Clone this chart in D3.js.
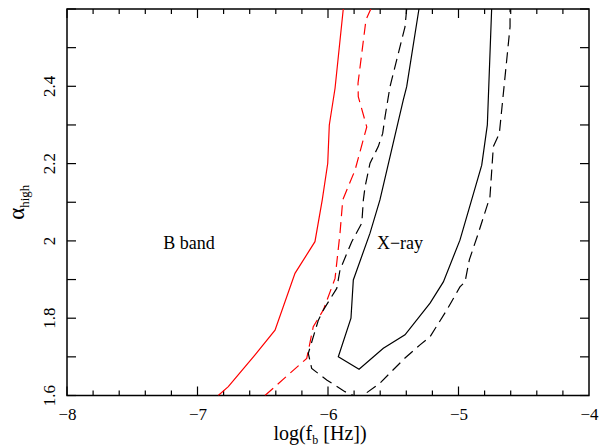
<!DOCTYPE html>
<html>
<head>
<meta charset="utf-8">
<script src="https://cdn.jsdelivr.net/npm/d3@7"></script>
<style>
  html, body { margin: 0; padding: 0; background: #fff; }
  svg { display: block; }
  text { font-family: "Liberation Serif", "DejaVu Serif", serif; fill: #000; }
</style>
</head>
<body>
<script>
// ---- data ----
const xDomain = [-8, -4];
const yDomain = [1.6, 2.6];
const xMajorTicks = [-8, -7, -6, -5, -4];
const xTickLabels = ["\u22128", "\u22127", "\u22126", "\u22125", "\u22124"];
const yMajorTicks = [1.6, 1.8, 2.0, 2.2, 2.4];
const yTickLabels = ["1.6", "1.8", "2", "2.2", "2.4"];

// B band contours (red)
const bBandSolid = [
  [-6.841, 1.600], [-6.764, 1.623], [-6.559, 1.705], [-6.406, 1.769],
  [-6.253, 1.916], [-6.100, 1.998], [-6.044, 2.106], [-6.002, 2.201],
  [-5.990, 2.300], [-5.946, 2.395], [-5.883, 2.600]
];
const bBandDashed = [
  [-6.483, 1.600], [-6.163, 1.696], [-6.113, 1.778], [-6.036, 1.821],
  [-5.946, 1.903], [-5.908, 2.020], [-5.887, 2.106], [-5.793, 2.183],
  [-5.703, 2.295], [-5.768, 2.373], [-5.770, 2.408], [-5.709, 2.572],
  [-5.672, 2.600]
];
// X-ray contours (black)
const xraySolid = [
  [-5.303, 2.600], [-5.397, 2.399], [-5.423, 2.365], [-5.602, 2.106],
  [-5.678, 2.020], [-5.806, 1.899], [-5.824, 1.800], [-5.921, 1.700],
  [-5.762, 1.668], [-5.576, 1.722], [-5.410, 1.757], [-5.218, 1.839],
  [-5.116, 1.894], [-4.989, 2.002], [-4.822, 2.196], [-4.779, 2.300],
  [-4.746, 2.600]
];
const xrayDashed = [
  [-5.397, 2.600], [-5.410, 2.554], [-5.525, 2.399], [-5.563, 2.321],
  [-5.581, 2.278], [-5.615, 2.244], [-5.678, 2.201], [-5.716, 2.140],
  [-5.729, 2.106], [-5.741, 2.046], [-5.818, 1.998], [-5.908, 1.925],
  [-5.933, 1.877], [-6.036, 1.821], [-6.074, 1.795], [-6.151, 1.709],
  [-6.125, 1.670], [-6.010, 1.640], [-5.870, 1.610], [-5.806, 1.600],
  [-5.770, 1.596], [-5.729, 1.601], [-5.602, 1.632], [-5.410, 1.697],
  [-5.295, 1.731], [-5.218, 1.752], [-5.090, 1.821], [-4.989, 1.881],
  [-4.950, 1.894], [-4.917, 1.951], [-4.848, 2.020], [-4.759, 2.114],
  [-4.733, 2.244], [-4.687, 2.278], [-4.605, 2.554], [-4.605, 2.600]
];
const bandLabel = "B band";
const xrayLabel = "X\u2212ray";
const bandLabelPos = [-7.262, 1.98];
const xrayLabelPos = [-5.625, 1.98];

// ---- layout ----
const W = 600, H = 447;
const m = { left: 67, right: 11, top: 9, bottom: 51.5 };
const iw = W - m.left - m.right, ih = H - m.top - m.bottom;

const svg = d3.select("body").append("svg").attr("width", W).attr("height", H);
const g = svg.append("g").attr("transform", `translate(${m.left},${m.top})`);

const x = d3.scaleLinear().domain(xDomain).range([0, iw]);
const y = d3.scaleLinear().domain(yDomain).range([ih, 0]);

svg.append("defs").append("clipPath").attr("id", "clip")
  .append("rect").attr("width", iw).attr("height", ih);

// minor ticks
const xMinor = d3.range(-8, -4.0001, 0.2).map(v => +v.toFixed(2));
const yMinor = d3.range(1.6, 2.6001, 0.1).map(v => +v.toFixed(2));

function isMajorX(v) { return Math.abs(v - Math.round(v)) < 1e-6; }

// bottom ticks
const gxB = g.append("g").attr("transform", `translate(0,${ih})`);
gxB.selectAll("line.t").data(xMinor).join("line")
  .attr("x1", d => x(d)).attr("x2", d => x(d))
  .attr("y1", 0).attr("y2", d => isMajorX(d) ? -9 : -5)
  .attr("stroke", "#000").attr("stroke-width", 1.2);
// top ticks
g.append("g").selectAll("line").data(xMinor).join("line")
  .attr("x1", d => x(d)).attr("x2", d => x(d))
  .attr("y1", 0).attr("y2", d => isMajorX(d) ? 9 : 5)
  .attr("stroke", "#000").attr("stroke-width", 1.2);
// x tick labels via axis
const xAxisLabels = d3.axisBottom(x).tickValues(xMajorTicks)
  .tickSize(0).tickPadding(12)
  .tickFormat((d, i) => xTickLabels[i]);
const gxl = g.append("g").attr("transform", `translate(0,${ih})`).call(xAxisLabels);
gxl.attr("font-family", null).attr("font-size", null);
gxl.select(".domain").remove();
gxl.selectAll("text").style("font-family", '"Liberation Serif", serif').style("font-size", "17px").attr("fill", "#000");

// left/right ticks
g.append("g").selectAll("line").data(yMinor).join("line")
  .attr("x1", 0).attr("x2", 9).attr("y1", d => y(d)).attr("y2", d => y(d))
  .attr("stroke", "#000").attr("stroke-width", 1.2);
g.append("g").selectAll("line").data(yMinor).join("line")
  .attr("x1", iw).attr("x2", iw - 9).attr("y1", d => y(d)).attr("y2", d => y(d))
  .attr("stroke", "#000").attr("stroke-width", 1.2);

// y tick labels (rotated)
g.append("g").selectAll("text").data(yMajorTicks).join("text")
  .attr("transform", d => `translate(-12,${y(d)}) rotate(-90)`)
  .attr("text-anchor", "middle")
  .style("font-size", "17px")
  .text((d, i) => yTickLabels[i]);

// frame
g.append("rect").attr("width", iw).attr("height", ih)
  .attr("fill", "none").attr("stroke", "#000").attr("stroke-width", 1.5);

// contours
const line = d3.line().x(d => x(d[0])).y(d => y(d[1]));
const cg = g.append("g").attr("clip-path", "url(#clip)");
const series = [
  { data: bBandSolid, color: "#ff0000", dash: null },
  { data: bBandDashed, color: "#ff0000", dash: "11,6" },
  { data: xraySolid, color: "#000000", dash: null },
  { data: xrayDashed, color: "#000000", dash: "11,6" }
];
cg.selectAll("path").data(series).join("path")
  .attr("d", d => line(d.data))
  .attr("fill", "none")
  .attr("stroke", d => d.color)
  .attr("stroke-width", 1.2)
  .attr("stroke-dasharray", d => d.dash);

// labels
g.append("text").attr("x", x(bandLabelPos[0])).attr("y", y(bandLabelPos[1]))
  .style("font-size", "18px").text(bandLabel);
g.append("text").attr("x", x(xrayLabelPos[0])).attr("y", y(xrayLabelPos[1]))
  .style("font-size", "18px").text(xrayLabel);

// axis titles
const xt = svg.append("text").attr("x", 320).attr("y", 440)
  .attr("text-anchor", "middle").style("font-size", "20px");
xt.append("tspan").text("log(f");
xt.append("tspan").attr("dy", 4).style("font-size", "12px").text("b");
xt.append("tspan").attr("dy", -4).text(" [Hz])");

const yt = svg.append("text")
  .attr("transform", `translate(24,${m.top + ih / 2}) rotate(-90)`)
  .attr("text-anchor", "middle").style("font-size", "23px");
yt.append("tspan").text("\u03b1");
yt.append("tspan").attr("dy", 5).style("font-size", "13px").text("high");
</script>
</body>
</html>
